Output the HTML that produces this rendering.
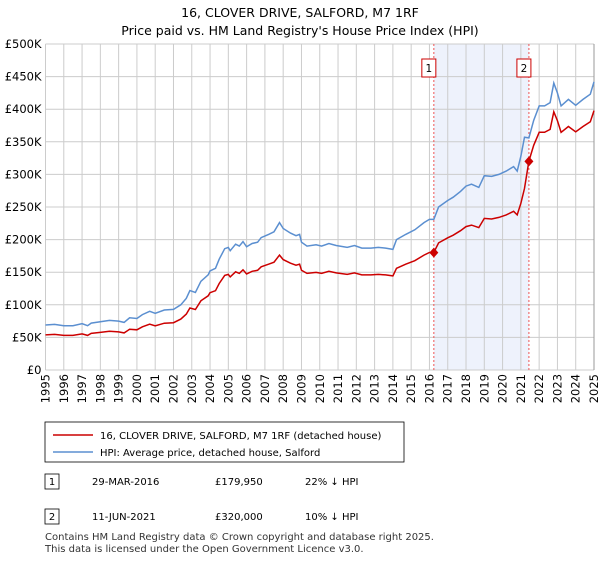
<!DOCTYPE html>
<html><head><meta charset="utf-8"><style>
body{margin:0;background:#fff;font-family:"Liberation Sans","DejaVu Sans",sans-serif;}
svg text{font-family:"DejaVu Sans","Liberation Sans",sans-serif;}
</style></head><body>
<svg id="chart" width="600" height="560" viewBox="0 0 600 560" xmlns="http://www.w3.org/2000/svg">
<text x="300" y="17" text-anchor="middle" font-size="12.5">16, CLOVER DRIVE, SALFORD, M7 1RF</text>
<text x="300" y="35" text-anchor="middle" font-size="12.5">Price paid vs. HM Land Registry's House Price Index (HPI)</text>
<g id="plot"></g>
<g>
<rect x="45" y="422" width="359" height="40" fill="#fff" stroke="#000" stroke-width="0.8"/>
<line x1="53" y1="435" x2="93" y2="435" stroke="#cc0000" stroke-width="1.5"/>
<text x="100" y="439" font-size="10">16, CLOVER DRIVE, SALFORD, M7 1RF (detached house)</text>
<line x1="53" y1="452" x2="93" y2="452" stroke="#5b8fd0" stroke-width="1.5"/>
<text x="100" y="456" font-size="10">HPI: Average price, detached house, Salford</text>
</g>
<g font-size="10">
<rect x="45" y="474" width="14" height="15" fill="#fff" stroke="#000" stroke-width="0.8"/>
<text x="52" y="485" text-anchor="middle">1</text>
<text x="92" y="485">29-MAR-2016</text>
<text x="215" y="485">£179,950</text>
<text x="305" y="485">22% ↓ HPI</text>
<rect x="45" y="509" width="14" height="15" fill="#fff" stroke="#000" stroke-width="0.8"/>
<text x="52" y="520" text-anchor="middle">2</text>
<text x="92" y="520">11-JUN-2021</text>
<text x="215" y="520">£320,000</text>
<text x="305" y="520">10% ↓ HPI</text>
</g>
<text x="45" y="540" font-size="10" fill="#333">Contains HM Land Registry data © Crown copyright and database right 2025.</text>
<text x="45" y="552" font-size="10" fill="#333">This data is licensed under the Open Government Licence v3.0.</text>
</svg>
<script>
const hpiYears=[1995,1995.5,1996,1996.5,1997,1997.3,1997.5,1998,1998.5,1999,1999.3,1999.6,2000,2000.3,2000.7,2001,2001.5,2002,2002.4,2002.7,2002.9,2003.2,2003.5,2003.9,2004,2004.3,2004.5,2004.8,2005,2005.1,2005.4,2005.6,2005.8,2006,2006.3,2006.6,2006.8,2007.2,2007.5,2007.8,2008,2008.4,2008.7,2008.9,2009,2009.3,2009.8,2010.1,2010.5,2010.9,2011.5,2011.9,2012.3,2012.8,2013.2,2013.6,2014,2014.2,2014.7,2015.2,2015.7,2016,2016.24,2016.5,2017,2017.3,2017.7,2018,2018.3,2018.7,2019,2019.4,2019.8,2020.2,2020.6,2020.8,2021,2021.2,2021.44,2021.7,2022,2022.3,2022.6,2022.8,2023,2023.2,2023.6,2024,2024.4,2024.8,2025];
const hpiValues=[69,70,68,68,71,68,72,74,76,75,73,80,79,85,90,87,92,93,100,110,122,119,136,146,152,156,170,186,188,183,193,190,197,189,194,196,203,208,212,226,217,210,206,208,196,190,192,190,194,191,188,191,187,187,188,187,185,200,208,215,226,231,231,250,260,265,274,282,285,280,298,297,300,305,312,305,328,357,356,383,405,405,410,440,425,405,415,406,415,423,442];
const saleYears=[2016.24,2021.44];
const salePrices=[179950,320000];
const saleRatios=[0.78,0.90];
const yTicks=[0,50,100,150,200,250,300,350,400,450,500];
const yTickLabels=["£0","£50K","£100K","£150K","£200K","£250K","£300K","£350K","£400K","£450K","£500K"];
const xTicks=[1995,1996,1997,1998,1999,2000,2001,2002,2003,2004,2005,2006,2007,2008,2009,2010,2011,2012,2013,2014,2015,2016,2017,2018,2019,2020,2021,2022,2023,2024,2025];

const NS="http://www.w3.org/2000/svg";
const L=45.5,R=594,T=44,B=370;
const xS=y=>L+(y-1995)/30*(R-L);
const yS=v=>B-v/500*(B-T);
const g=document.getElementById('plot');
function mk(tag,attrs){const e=document.createElementNS(NS,tag);for(const k in attrs)e.setAttribute(k,attrs[k]);g.appendChild(e);return e;}

let sh=mk('rect',{x:xS(saleYears[0]),y:T,width:xS(saleYears[1])-xS(saleYears[0]),height:B-T,fill:'#eef2fc'});


yTicks.forEach((v,i)=>{
  let l=mk('line',{x1:L,x2:R,y1:yS(v),y2:yS(v),stroke:'#cccccc','stroke-width':1});
  
  
  let t=mk('text',{x:L-4,y:yS(v)+4,'text-anchor':'end','font-size':11.5});
  
  
  t.textContent=yTickLabels[i];
});
xTicks.forEach(y=>{
  let l=mk('line',{x1:xS(y),x2:xS(y),y1:T,y2:B,stroke:'#cccccc','stroke-width':1});
  
  
  const tx=xS(y)+4, ty=B+4;
  let t=mk('text',{x:tx,y:ty,'text-anchor':'end','font-size':11.5,transform:'rotate(-90 '+tx.toFixed(1)+' '+ty+')'});
  
  
  t.textContent=y;
});
let ax=mk('line',{x1:R,x2:R,y1:T,y2:B,stroke:'#999','stroke-width':1});



saleYears.forEach((sy,i)=>{
  let l=mk('line',{x1:xS(sy),x2:xS(sy),y1:T,y2:B,stroke:'#ee5555','stroke-width':1,'stroke-dasharray':'2,2'});
  
  
  let r=mk('rect',{x:xS(sy)-12,y:59,width:14,height:18,fill:'#fff',stroke:'#cc0000','stroke-width':1});
  
  
  let t=mk('text',{x:xS(sy)-5,y:72,'text-anchor':'middle','font-size':10.5});
  
  
  t.textContent=String(i+1);
});

const pts=(vals)=>hpiYears.map((y,i)=>xS(y).toFixed(1)+','+yS(vals[i]).toFixed(1)).join(' ');
let hp=mk('polyline',{points:pts(hpiValues),fill:'none',stroke:'#5b8fd0','stroke-width':1.5});


const redVals=hpiYears.map((y,i)=>hpiValues[i]*(y<saleYears[1]?saleRatios[0]:saleRatios[1]));
let rp=mk('polyline',{points:pts(redVals),fill:'none',stroke:'#cc0000','stroke-width':1.5});


saleYears.forEach((sy,i)=>{
  const cx=xS(sy),cy=yS(salePrices[i]/1000);
  let d=mk('polygon',{points:`${cx},${cy-5} ${cx+4.5},${cy} ${cx},${cy+5} ${cx-4.5},${cy}`,fill:'#cc0000'});
  
  
});
</script>
</body></html>
